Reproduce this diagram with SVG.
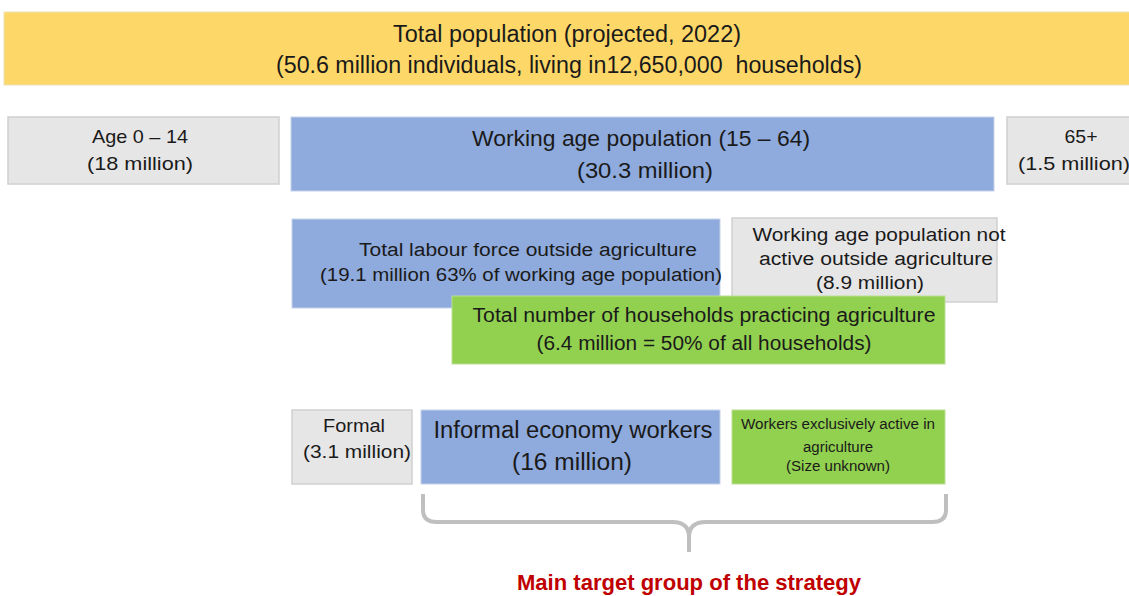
<svg xmlns="http://www.w3.org/2000/svg" width="1129" height="596" viewBox="0 0 1129 596">
  <style>
    text { font-family: "Liberation Sans", "DejaVu Sans", sans-serif; fill: #1a1a1a; text-anchor: middle; }
    .gray { fill: #E7E6E6; stroke: #D0D0D0; stroke-width: 1.5; }
    .blue { fill: #8FAADC; stroke: #C5D3EC; stroke-width: 1; }
    .green { fill: #92D050; stroke: #B9DF94; stroke-width: 1; }
    .yellow { fill: #FDD868; stroke: #EDE2B8; stroke-width: 1; }
    .brace { fill: none; stroke: #BFBFBF; stroke-width: 4; stroke-linecap: butt; }
    .target { fill: #C00000; font-weight: bold; }
  </style>

  <g id="total-population">
    <rect class="yellow" x="4" y="12" width="1130" height="73"/>
    <text x="567" y="42" font-size="23" textLength="348" lengthAdjust="spacingAndGlyphs">Total population (projected, 2022)</text>
    <text x="569" y="73" font-size="23" textLength="586" lengthAdjust="spacingAndGlyphs">(50.6 million individuals, living in12,650,000&#160; households)</text>
  </g>

  <g id="age-0-14">
    <rect class="gray" x="8" y="117" width="271" height="67"/>
    <text x="140" y="143" font-size="19" textLength="96" lengthAdjust="spacingAndGlyphs">Age 0 – 14</text>
    <text x="140" y="170" font-size="19" textLength="106" lengthAdjust="spacingAndGlyphs">(18 million)</text>
  </g>

  <g id="working-age">
    <rect class="blue" x="291" y="117" width="703" height="74"/>
    <text x="641" y="146" font-size="22" textLength="338" lengthAdjust="spacingAndGlyphs">Working age population (15 – 64)</text>
    <text x="645" y="178" font-size="22" textLength="136" lengthAdjust="spacingAndGlyphs">(30.3 million)</text>
  </g>

  <g id="age-65-plus">
    <rect class="gray" x="1007" y="117" width="130" height="67"/>
    <text x="1081" y="143" font-size="19" textLength="33" lengthAdjust="spacingAndGlyphs">65+</text>
    <text x="1074" y="170" font-size="19" textLength="112" lengthAdjust="spacingAndGlyphs">(1.5 million)</text>
  </g>

  <g id="labour-force">
    <rect class="blue" x="292" y="219" width="428" height="89"/>
    <text x="528" y="256" font-size="18" textLength="338" lengthAdjust="spacingAndGlyphs">Total labour force outside agriculture</text>
    <text x="521" y="281" font-size="18" textLength="402" lengthAdjust="spacingAndGlyphs">(19.1 million 63% of working age population)</text>
  </g>

  <g id="not-active">
    <rect class="gray" x="732" y="218" width="265" height="84"/>
    <text x="879" y="241" font-size="18" textLength="253" lengthAdjust="spacingAndGlyphs">Working age population not</text>
    <text x="876" y="265" font-size="18" textLength="234" lengthAdjust="spacingAndGlyphs">active outside agriculture</text>
    <text x="870" y="289" font-size="18" textLength="108" lengthAdjust="spacingAndGlyphs">(8.9 million)</text>
  </g>

  <g id="agri-households">
    <rect class="green" x="452" y="296" width="493" height="68"/>
    <text x="704" y="322" font-size="20" textLength="463" lengthAdjust="spacingAndGlyphs">Total number of households practicing agriculture</text>
    <text x="704" y="350" font-size="20" textLength="335" lengthAdjust="spacingAndGlyphs">(6.4 million = 50% of all households)</text>
  </g>

  <g id="formal">
    <rect class="gray" x="292" y="410" width="120" height="74"/>
    <text x="354" y="432" font-size="18" textLength="62" lengthAdjust="spacingAndGlyphs">Formal</text>
    <text x="357" y="458" font-size="18" textLength="108" lengthAdjust="spacingAndGlyphs">(3.1 million)</text>
  </g>

  <g id="informal">
    <rect class="blue" x="421" y="410" width="299" height="74"/>
    <text x="573" y="438" font-size="23" textLength="279" lengthAdjust="spacingAndGlyphs">Informal economy workers</text>
    <text x="572" y="470" font-size="23" textLength="120" lengthAdjust="spacingAndGlyphs">(16 million)</text>
  </g>

  <g id="agri-only">
    <rect class="green" x="732" y="410" width="213" height="74"/>
    <text x="838" y="429" font-size="14" textLength="194" lengthAdjust="spacingAndGlyphs">Workers exclusively active in</text>
    <text x="838" y="452" font-size="14" textLength="70" lengthAdjust="spacingAndGlyphs">agriculture</text>
    <text x="838" y="471" font-size="14" textLength="104" lengthAdjust="spacingAndGlyphs">(Size unknown)</text>
  </g>

  <g id="connectors">
    <path class="brace" d="M 423 494 L 423 510 Q 423 522 437 522 L 672 522 Q 689 522 689 537 L 689 552 M 689 537 Q 689 522 706 522 L 932 522 Q 946 522 946 510 L 946 494"/>
  </g>

  <g id="target-label">
    <text class="target" x="689" y="590" font-size="22" textLength="344" lengthAdjust="spacingAndGlyphs">Main target group of the strategy</text>
  </g>
</svg>
